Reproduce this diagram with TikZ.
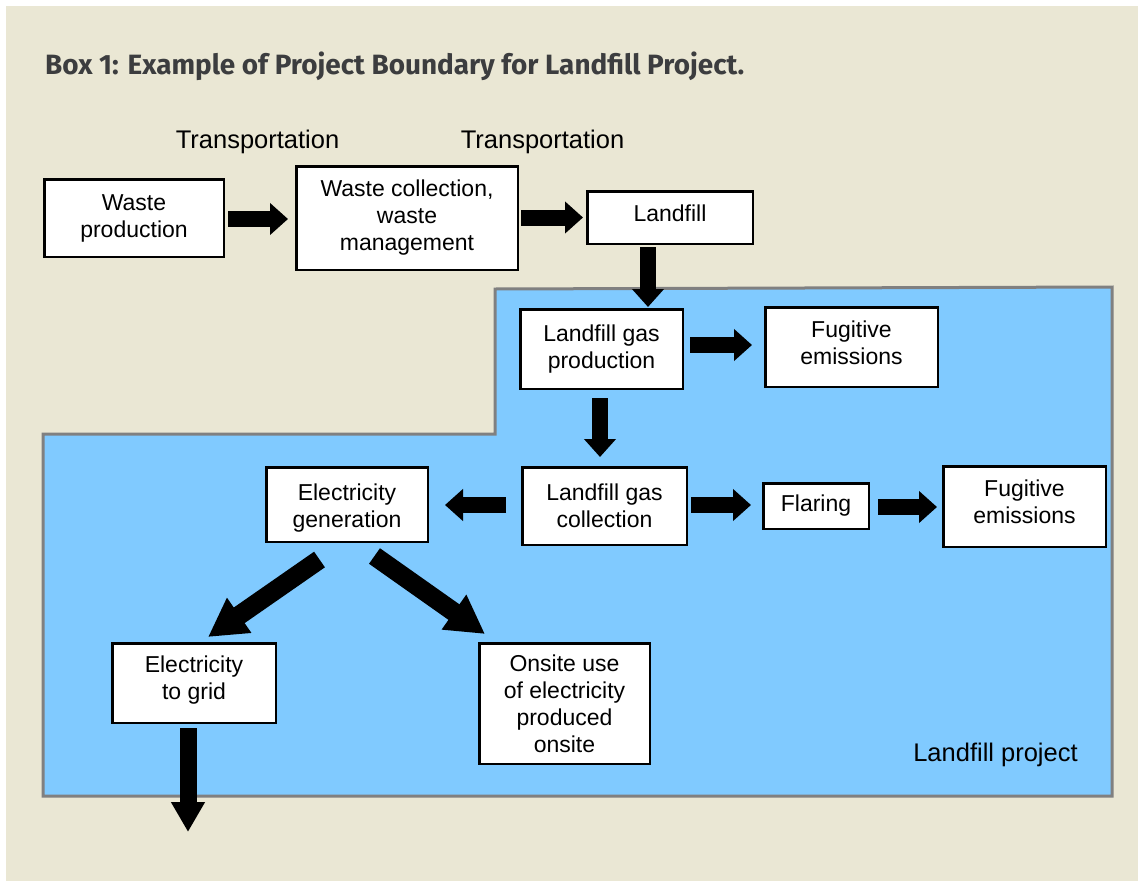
\documentclass[tikz,border=0pt]{standalone}
\usepackage{fontspec}
\setmainfont{Liberation Sans}
\newfontfamily\titlefont{Fira Sans}
\usetikzlibrary{arrows.meta,calc}
\definecolor{bgbeige}{HTML}{EAE7D4}
\definecolor{projblue}{HTML}{80CAFF}
\definecolor{bordergray}{HTML}{808080}
\definecolor{titlegray}{HTML}{3C3D3F}
\tikzset{
  procbox/.style={draw=black, line width=2.5pt, fill=white, inner sep=0pt,
    align=center, font=\fontsize{23}{27}\selectfont},
  barrow/.style={line width=16pt, -{Triangle[length=18pt,width=31pt]}},
  diagarrow/.style={line width=19pt, -{Triangle[length=38pt,width=40pt]}},
  downarrow/.style={line width=17pt, -{Triangle[length=30pt,width=32pt]}},
  biglabel/.style={font=\fontsize{25.5}{30}\selectfont, anchor=base, inner sep=0pt},
}
\begin{document}
\begin{tikzpicture}[x=1pt,y=-1pt]
\useasboundingbox (0,0) rectangle (1141,881);
\fill[white] (0,0) rectangle (1141,881);
\fill[bgbeige] (6,6) rectangle (1138,881);
% project boundary
\draw[bordergray, line width=3pt, fill=projblue]
  (495,289) -- (1112,287) -- (1112,796) -- (43,796) -- (43,434) -- (495,434) -- cycle;
% title
\node[anchor=base west, inner sep=0pt, text=titlegray,
  font=\titlefont\bfseries\fontsize{27.9}{32}\selectfont] (title) at (45,74)
  {Box 1: Example of Project Boundary for Landfill Project.};
% labels
\node[biglabel] (t1) at (257.5,148) {Transportation};
\node[biglabel] (t2) at (542.5,148) {Transportation};
\node[biglabel] (lp) at (995.5,761) {Landfill project};
% boxes
\node[procbox, minimum width=179.5pt, minimum height=77.5pt] (wp) at (134,218) {Waste\\production};
\node[procbox, minimum width=221.5pt, minimum height=103.5pt] (wc) at (407,218) {Waste collection,\\waste\\management};
\node[procbox, minimum width=165.5pt, minimum height=52.5pt, text depth=8pt] (lf) at (670,217.5) {Landfill};
\node[procbox, minimum width=162.5pt, minimum height=79.5pt] (lgp) at (601.5,349) {Landfill gas\\production};
\node[procbox, minimum width=172.5pt, minimum height=79.5pt] (fe1) at (851.5,347) {Fugitive\\emissions\\[-18pt]};
\node[procbox, minimum width=164.5pt, minimum height=77.5pt] (lgc) at (604.5,506) {Landfill gas\\collection};
\node[procbox, minimum width=161.5pt, minimum height=74.5pt] (eg) at (347,504.5) {\\[-4pt]Electricity\\generation};
\node[procbox, minimum width=105.5pt, minimum height=45.5pt] (fl) at (816,506) {Flaring};
\node[procbox, minimum width=162.5pt, minimum height=80.5pt] (fe2) at (1024.5,506.5) {Fugitive\\emissions\\[-17pt]};
\node[procbox, minimum width=163.5pt, minimum height=79.5pt] (grid) at (194,683) {Electricity\\to grid\\[-16pt]};
\node[procbox, minimum width=170.5pt, minimum height=120.5pt] (ou) at (564.5,703.5) {Onsite use\\of electricity\\produced\\onsite};
% free end of the outgoing arrow
\coordinate (gridout) at (188,832);
% arrows
\draw[barrow, shorten <=3pt, shorten >=7pt] ([yshift=-1pt]wp.east) -- ([yshift=-1pt]wp.east -| wc.west);
\draw[barrow, shorten <=2pt, shorten >=3pt] (wc.east |- lf.west) -- (lf.west);
\draw[barrow, shorten <=2pt, shorten >=1pt] ([xshift=-22pt]lf.south) -- ([xshift=-22pt]lf.south |- lgp.north);
\draw[barrow, shorten <=6pt, shorten >=12pt] ([yshift=4pt]lgp.east) -- ([yshift=4pt]lgp.east -| fe1.west);
\draw[barrow, shorten <=8pt, shorten >=9pt] ([xshift=-1.5pt]lgp.south) -- ([xshift=-1.5pt]lgp.south |- lgc.north);
\draw[barrow, shorten <=15pt, shorten >=16pt] ([yshift=1pt]lgc.west) -- ([yshift=1pt]lgc.west -| eg.east);
\draw[barrow, shorten <=3pt, shorten >=11pt] ([yshift=1pt]lgc.east) -- ([yshift=1pt]lgc.east -| fl.west);
\draw[barrow, shorten <=8pt, shorten >=5pt] ([yshift=-1pt]fl.east) -- ([yshift=-1pt]fl.east -| fe2.west);
\draw[diagarrow] ($(eg.south)+(-27.5,16.5)$) -- ($(grid.north)+(14,-5)$);
\draw[diagarrow] ($(eg.south)+(27.5,13)$) -- ($(ou.north west)+(7,-8)$);
\draw[downarrow, shorten <=4pt] ([xshift=-6pt]grid.south) -- (gridout);
\end{tikzpicture}
\end{document}
